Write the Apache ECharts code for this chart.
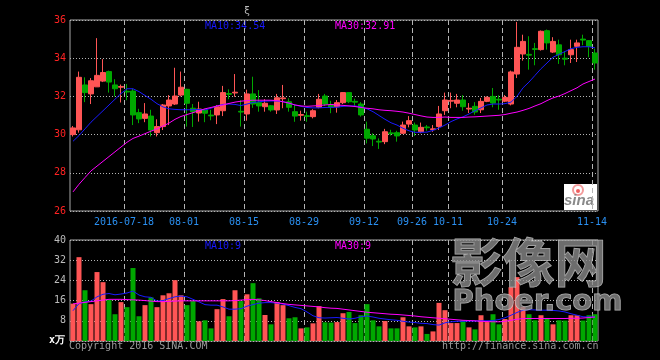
<!DOCTYPE html>
<html><head><meta charset="utf-8">
<script src="https://cdn.jsdelivr.net/npm/echarts@6/dist/echarts.min.js"></script>
<style>html,body{margin:0;padding:0;background:#000;}#c{width:660px;height:360px;}</style>
</head><body><div id="c"></div>
<script>
const dates = ['2016-07-05','2016-07-06','2016-07-07','2016-07-08','2016-07-11','2016-07-12','2016-07-13','2016-07-14','2016-07-15','2016-07-18','2016-07-19','2016-07-20','2016-07-21','2016-07-22','2016-07-25','2016-07-26','2016-07-27','2016-07-28','2016-07-29',
'2016-08-01','2016-08-02','2016-08-03','2016-08-04','2016-08-05','2016-08-08','2016-08-09','2016-08-10','2016-08-11','2016-08-12','2016-08-15','2016-08-16','2016-08-17','2016-08-18','2016-08-19','2016-08-22','2016-08-23','2016-08-24','2016-08-25','2016-08-26','2016-08-29','2016-08-30','2016-08-31',
'2016-09-01','2016-09-02','2016-09-05','2016-09-06','2016-09-07','2016-09-08','2016-09-09','2016-09-12','2016-09-13','2016-09-14','2016-09-19','2016-09-20','2016-09-21','2016-09-22','2016-09-23','2016-09-26','2016-09-27','2016-09-28','2016-09-29','2016-09-30',
'2016-10-10','2016-10-11','2016-10-12','2016-10-13','2016-10-14','2016-10-17','2016-10-18','2016-10-19','2016-10-20','2016-10-21','2016-10-24','2016-10-25','2016-10-26','2016-10-27','2016-10-28','2016-10-31',
'2016-11-01','2016-11-02','2016-11-03','2016-11-04','2016-11-07','2016-11-08','2016-11-09','2016-11-10','2016-11-11','2016-11-14'];

const tickDates = ['2016-07-18','2016-08-01','2016-08-15','2016-08-29','2016-09-12','2016-09-26','2016-10-11','2016-10-24','2016-11-14'];
const tickLabels = ['2016-07-18','08-01','08-15','08-29','09-12','09-26','10-11','10-24','11-14'];

const priceMaLabels = ['MA10:34.54', 'MA30:32.91'];
const volMaLabels = ['MA10:9', 'MA30:9'];

const opens  = [30.0,30.25,32.6,32.13,32.5,32.8,33.3,32.6,32.48,32.27,32.28,31.15,30.85,30.97,30.1,30.42,31.5,31.6,32.07,32.37,31.38,31.13,31.29,31.02,31.03,31.25,32.15,32.18,31.22,31.08,32.13,31.67,31.46,31.51,31.29,31.88,31.72,31.2,31.01,30.99,30.94,31.43,32.02,31.55,31.46,31.67,32.2,31.74,31.6,30.28,29.94,29.65,29.63,30.09,30.1,30.07,30.55,30.5,30.15,30.4,30.26,30.42,31.25,31.75,31.64,31.81,31.34,31.48,31.3,31.74,32.0,31.85,31.75,31.6,33.17,34.22,34.2,34.5,34.45,35.44,34.32,34.7,34.0,34.18,34.62,35.0,34.92,34.27];
const closes = [30.35,33.0,32.2,32.82,33.1,33.25,32.75,32.4,32.52,32.23,31.03,30.82,31.08,30.24,30.42,31.55,31.81,32.02,32.48,31.64,31.2,31.34,31.12,30.98,31.46,32.2,32.11,32.22,31.18,32.13,31.6,31.5,31.64,31.29,31.93,31.92,31.43,30.97,31.05,30.95,31.25,31.85,31.6,31.43,31.67,32.2,31.72,31.7,31.03,29.81,29.77,29.61,30.15,30.05,29.93,30.5,30.73,30.24,30.38,30.36,30.3,31.08,31.81,31.79,31.81,31.46,31.38,31.18,31.74,31.95,31.65,31.81,31.95,33.28,34.57,34.88,34.16,34.46,35.41,34.8,34.88,34.18,33.95,34.45,34.8,34.95,34.62,33.75];
const lows   = [29.9,30.1,31.7,31.6,32.5,32.75,32.2,32.0,31.68,31.8,30.5,30.6,30.65,29.9,29.9,30.24,30.5,31.55,32.0,30.42,30.4,30.68,30.65,30.75,30.55,30.97,31.85,31.98,30.42,30.73,31.4,31.2,31.2,31.2,31.08,31.38,31.2,30.67,30.73,30.67,30.85,31.38,31.5,31.12,31.15,31.6,31.65,31.5,30.94,29.54,29.4,29.25,29.5,29.95,29.63,30.03,30.38,29.93,30.07,30.2,30.15,30.24,31.03,31.38,31.43,31.25,31.13,31.04,31.13,31.7,31.43,31.3,31.7,31.53,32.96,33.87,33.4,33.63,34.4,34.45,34.27,33.7,33.63,33.75,33.8,34.68,34.05,33.4];
const highs  = [30.45,33.3,33.0,32.96,35.05,33.95,33.35,32.9,32.62,32.65,32.4,31.35,31.65,31.3,30.8,31.6,32.07,33.5,33.3,32.4,31.6,31.72,31.35,31.3,31.55,32.55,32.37,33.17,31.8,32.35,33.03,32.33,31.85,31.55,32.13,32.6,31.9,31.55,31.25,31.2,31.33,32.13,32.13,31.77,31.81,32.22,32.22,31.88,31.7,30.68,30.07,29.8,30.3,30.25,30.2,30.68,30.97,30.63,30.63,30.5,30.5,31.5,32.2,32.2,32.13,32.07,31.65,31.7,31.92,32.0,32.44,32.06,32.07,33.35,35.9,35.23,35.15,34.8,35.45,35.5,35.1,34.97,34.36,34.97,34.97,35.23,34.95,34.5];

const ma10 = [29.65,29.95,30.3,30.65,30.95,31.25,31.55,31.85,32.15,32.4,32.4,32.25,32.05,31.85,31.62,31.45,31.35,31.32,31.3,31.3,31.3,31.32,
31.29,31.38,31.5,31.58,31.6,31.58,31.52,31.6,31.68,31.72,31.75,31.76,31.76,31.72,31.65,31.55,31.48,31.42,31.4,31.4,31.42,31.43,
31.43,31.48,31.5,31.5,31.45,31.35,31.2,31.0,30.8,30.62,30.5,30.33,30.2,30.12,30.12,30.13,30.22,30.35,30.5,30.68,30.82,30.93,
31.08,31.25,31.4,31.55,31.6,31.6,31.62,31.7,32.0,32.45,32.75,33.1,33.45,33.75,34.05,34.2,34.35,34.5,34.57,34.6,34.6,34.54];
const ma30 = [27.0,27.4,27.75,28.1,28.35,28.6,28.85,29.1,29.35,29.6,29.8,29.92,30.05,30.18,30.3,30.45,30.6,30.8,30.95,31.05,31.15,31.25,
31.35,31.42,31.5,31.55,31.63,31.7,31.75,31.78,31.8,31.8,31.8,31.8,31.78,31.72,31.65,31.55,31.5,31.48,31.5,31.52,31.55,31.58,
31.55,31.53,31.5,31.47,31.42,31.38,31.35,31.3,31.27,31.25,31.22,31.18,31.12,31.05,30.98,30.92,30.9,30.9,30.92,30.9,30.9,30.9,
30.92,30.93,30.95,30.97,30.99,31.01,31.05,31.12,31.18,31.27,31.37,31.5,31.62,31.78,31.92,32.02,32.15,32.3,32.45,32.65,32.78,32.91];

const volumes = [14.8,33.2,20.1,14.6,27.3,23.3,16.2,10.6,15.4,13.4,28.9,9.8,14.2,17.3,13.4,18.1,18.9,24.1,18.1,14.2,15.8,7.8,8.2,5.0,12.6,16.6,9.8,20.1,15.8,18.5,22.9,16.9,10.3,6.6,15.4,14.2,9.0,9.4,5.0,5.4,7.0,13.8,7.4,7.3,7.5,11.0,11.5,7.1,10.2,14.6,8.2,5.8,7.9,5.0,5.0,9.4,5.8,5.4,5.8,2.8,3.8,15.1,12.2,7.1,7.1,8.2,5.4,4.6,10.2,7.5,10.6,6.6,8.7,21.3,25.3,13.5,10.6,8.2,10.2,8.7,6.6,8.2,8.1,10.2,10.2,8.1,10.2,10.6];
const volMa10 = [12.0,14.8,15.5,15.8,17.5,18.5,18.8,18.3,18.6,19.0,19.8,18.2,17.5,17.3,15.8,16.0,16.8,17.5,17.8,17.5,16.5,15.5,14.4,14.2,14.2,13.5,12.6,12.6,12.8,13.8,14.4,15.0,15.2,15.2,15.0,14.6,14.0,13.3,12.8,11.5,10.0,9.2,9.1,9.2,
9.3,9.0,8.7,9.0,9.6,9.9,9.5,9.0,8.7,8.4,8.2,7.8,7.5,7.3,7.0,6.9,6.5,6.3,7.2,7.6,7.8,7.8,7.9,7.9,8.0,8.0,8.1,8.5,9.2,10.2,11.3,12.2,12.4,12.3,12.2,12.2,12.1,11.9,11.5,10.8,10.2,9.6,9.5,9.5];
const volMa30 = [14.7,15.0,15.3,15.6,15.9,16.2,16.5,16.5,16.5,16.4,16.3,16.2,16.0,15.8,15.6,15.6,15.7,15.8,15.9,15.9,15.9,15.9,15.9,15.9,15.9,15.9,15.9,16.0,16.2,16.4,16.5,16.3,16.0,15.6,15.2,14.8,14.5,14.3,14.1,13.9,13.7,13.5,13.2,13.0,12.9,12.6,12.3,12.0,11.7,11.4,11.2,11.0,10.8,10.6,10.5,10.3,10.1,9.9,9.6,9.4,9.2,9.0,8.8,8.6,8.4,8.2,8.1,8.0,7.8,7.7,7.6,7.6,7.8,8.2,8.6,8.9,8.9,8.9,8.9,8.9,8.9,8.9,8.9,9.0,9.0,9.1,9.3,9.5];

const UP = '#ff5555', DOWN = '#00a800';
const MONO = "'DejaVu Sans Mono', 'Liberation Mono', monospace";

const kData = dates.map((d, i) => [opens[i], closes[i], lows[i], highs[i]]);
const volData = volumes.map((v, i) => ({ value: v, itemStyle: { color: closes[i] >= opens[i] ? UP : DOWN } }));
// boundary axis: one entry per band edge (N+1)
const edgeLabels = dates.map(d => { const k = tickDates.indexOf(d); return k >= 0 ? tickLabels[k] : ''; }).concat(['']);
const isTick = (idx) => edgeLabels[idx] !== '';

const chart = echarts.init(document.getElementById('c'), null, { renderer: 'canvas' });
const gridBorder = '#a8a8a8';
const dashV = { color: '#b4b4b4', width: 1, type: [5, 3] };
const dotH = { color: '#b4b4b4', width: 1, type: [1, 2] };

chart.setOption({
  backgroundColor: '#000',
  animation: false,
  grid: [
    { left: 70, top: 20, width: 528, height: 191, show: true, borderColor: gridBorder, borderWidth: 1, backgroundColor: 'transparent' },
    { left: 70, top: 240, width: 528, height: 101, show: true, borderColor: gridBorder, borderWidth: 1, backgroundColor: 'transparent' }
  ],
  xAxis: [
    { type: 'category', gridIndex: 0, position: 'bottom', data: dates, boundaryGap: true, axisLine: { show: false }, axisTick: { show: false }, axisLabel: { show: false }, splitLine: { show: false } },
    { type: 'category', gridIndex: 0, position: 'bottom', offset: 0, data: edgeLabels, boundaryGap: false, axisLine: { show: false }, axisTick: { show: false },
      axisLabel: { show: true, interval: (i) => isTick(i), color: '#2a8ff0', fontFamily: MONO, fontSize: 10, margin: 6 },
      splitLine: { show: true, interval: (i) => isTick(i), lineStyle: dashV } },
    { type: 'category', gridIndex: 1, position: 'bottom', data: dates, boundaryGap: true, axisLine: { show: false }, axisTick: { show: false }, axisLabel: { show: false }, splitLine: { show: false } },
    { type: 'category', gridIndex: 1, position: 'bottom', offset: 0, data: edgeLabels, boundaryGap: false, axisLine: { show: false }, axisTick: { show: false },
      axisLabel: { show: false },
      splitLine: { show: true, interval: (i) => isTick(i), lineStyle: dashV } }
  ],
  yAxis: [
    { type: 'value', gridIndex: 0, min: 26, max: 36, interval: 2, axisLine: { show: false }, axisTick: { show: false },
      axisLabel: { color: '#ff2222', fontFamily: MONO, fontSize: 10, margin: 4 }, splitLine: { show: true, lineStyle: dotH } },
    { type: 'value', gridIndex: 1, min: 0, max: 40, interval: 8, axisLine: { show: false }, axisTick: { show: false },
      axisLabel: { color: '#bcbcbc', fontFamily: MONO, fontSize: 10, margin: 4, formatter: v => v === 0 ? '' : String(v) },
      splitLine: { show: true, lineStyle: dotH } }
  ],
  series: [
    { type: 'candlestick', xAxisIndex: 0, yAxisIndex: 0, data: kData, barWidth: 5,
      itemStyle: { color: UP, color0: DOWN, borderColor: UP, borderColor0: DOWN, borderWidth: 1 } },
    { type: 'line', xAxisIndex: 0, yAxisIndex: 0, data: ma10, symbol: 'none', lineStyle: { color: '#1a1aff', width: 1 } },
    { type: 'line', xAxisIndex: 0, yAxisIndex: 0, data: ma30, symbol: 'none', lineStyle: { color: '#ff00ff', width: 1 } },
    { type: 'bar', xAxisIndex: 2, yAxisIndex: 1, data: volData, barWidth: 5 },
    { type: 'line', xAxisIndex: 2, yAxisIndex: 1, data: volMa10, symbol: 'none', lineStyle: { color: '#1a1aff', width: 1 } },
    { type: 'line', xAxisIndex: 2, yAxisIndex: 1, data: volMa30, symbol: 'none', lineStyle: { color: '#ff00ff', width: 1 } }
  ],
  graphic: [
    { type: 'text', left: 244, top: 6, style: { text: 'ξ', fill: '#bbbbbb', font: '10px ' + MONO } },
    { type: 'text', left: 205, top: 21, style: { text: priceMaLabels[0], fill: '#1a1aff', font: '10px ' + MONO } },
    { type: 'text', left: 335, top: 21, style: { text: priceMaLabels[1], fill: '#ff00ff', font: '10px ' + MONO } },
    { type: 'text', left: 205, top: 241, style: { text: volMaLabels[0], fill: '#1a1aff', font: '10px ' + MONO } },
    { type: 'text', left: 335, top: 241, style: { text: volMaLabels[1], fill: '#ff00ff', font: '10px ' + MONO } },
    { type: 'text', left: 49, top: 335, style: { text: 'x万', fill: '#ffffff', font: 'bold 10px ' + MONO } },
    { type: 'text', left: 69, top: 341, style: { text: 'Copyright 2016 SINA.COM', fill: '#9a9a9a', font: '10px ' + MONO } },
    { type: 'text', left: 442, top: 341, style: { text: 'http://finance.sina.com.cn', fill: '#9a9a9a', font: '10px ' + MONO } },
    // sina logo
    { type: 'rect', shape: { x: 564, y: 184, width: 33, height: 26 }, style: { fill: '#ffffff' } },
    { type: 'circle', shape: { cx: 578, cy: 190, r: 5 }, style: { fill: 'none', stroke: '#f39a9a', lineWidth: 2 } },
    { type: 'circle', shape: { cx: 578, cy: 191, r: 2 }, style: { fill: '#f06060' } },
    { type: 'text', left: 564, top: 193, style: { text: 'sina', fill: '#8a8a8a', font: 'italic bold 15px Arial, sans-serif' } },
    // watermark
    { type: 'text', left: 450, top: 236, z: 100, style: { text: '影像网', fill: 'rgba(140,140,140,0.78)', stroke: 'rgba(220,220,220,0.8)', lineWidth: 1, font: 'bold 52px "Noto Sans CJK SC"' } },
    { type: 'text', left: 452, top: 287, z: 100, style: { text: 'Phoer.com', fill: 'rgba(140,140,140,0.78)', stroke: 'rgba(220,220,220,0.8)', lineWidth: 1, font: 'bold 29px "DejaVu Sans"' } }
  ]
});
</script></body></html>
